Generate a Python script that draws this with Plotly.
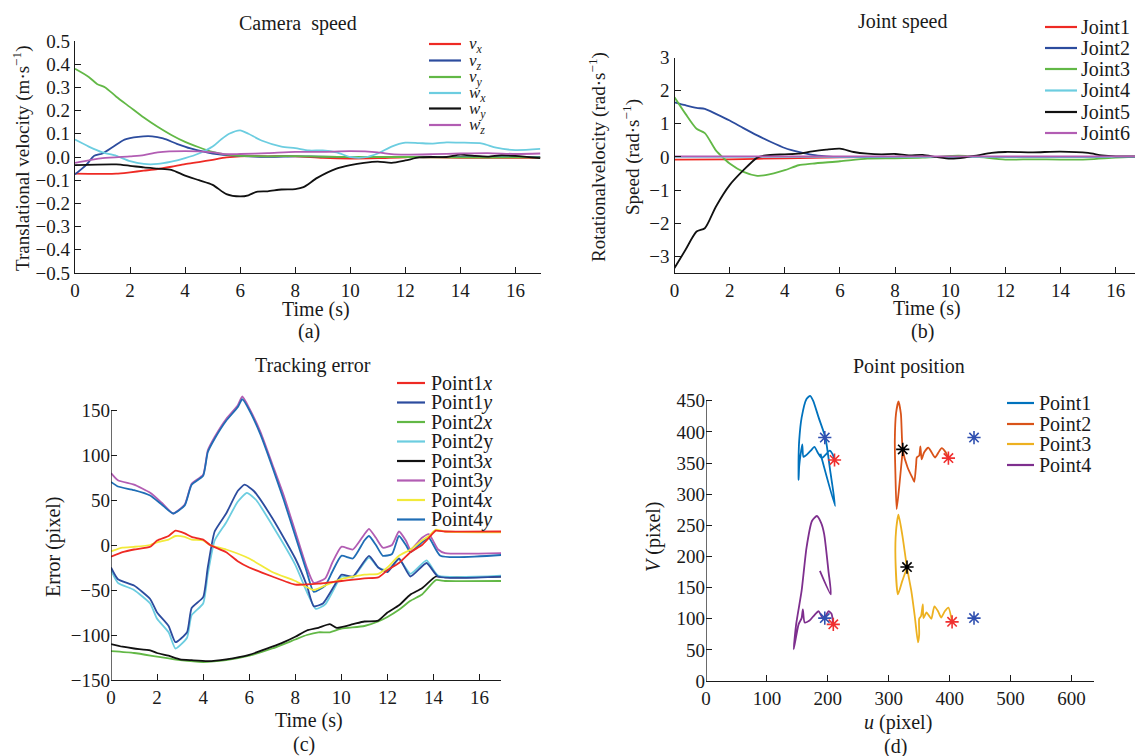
import plotly.graph_objects as go

FONT = "Liberation Serif"
W, H = 1135, 756

# ---------------- (a) Camera speed ----------------
ta_vx = [0, 0.5, 1.0, 1.5, 2, 2.5, 3, 3.5, 4, 4.5, 5, 5.5, 6, 7, 8, 9, 10, 11, 12, 13, 14, 15, 16, 16.9]
va_vx = [-0.072, -0.073, -0.073, -0.072, -0.066, -0.059, -0.052, -0.042, -0.031, -0.022, -0.012, -0.002, 0.003, 0.003, 0.003, -0.004, -0.007, -0.005, -0.001, -0.002, -0.004, -0.004, -0.004, -0.004]

ta_vz = [0, 0.4, 0.7, 1.0, 1.4, 1.8, 2.3, 2.8, 3.2, 3.7, 4.2, 5, 6, 7, 8, 9, 10, 12, 14, 16.9]
va_vz = [-0.075, -0.035, 0.005, 0.015, 0.045, 0.075, 0.087, 0.089, 0.08, 0.057, 0.037, 0.015, 0.005, 0.001, 0.003, 0.002, 0.0, 0.0, 0.0, 0.0]

ta_vy = [0, 0.5, 0.8, 1.1, 1.5, 2, 2.5, 3, 3.5, 4, 4.5, 5, 5.5, 6, 7, 8, 9, 10, 12, 14, 16, 16.9]
va_vy = [0.38, 0.345, 0.315, 0.30, 0.26, 0.215, 0.17, 0.13, 0.095, 0.065, 0.042, 0.022, 0.01, 0.005, 0.003, 0.004, 0.001, 0.0, 0.0, -0.002, -0.002, -0.002]

ta_wx = [0, 0.5, 1.0, 1.5, 2, 2.5, 3, 3.5, 4, 4.5, 5, 5.3, 5.6, 6, 6.3, 6.8, 7.5, 8, 8.5, 9, 9.5, 10, 10.5, 11, 11.5, 12, 12.5, 13, 13.5, 14, 14.8, 15.3, 16, 16.9]
va_wx = [0.075, 0.045, 0.02, 0.005, -0.018, -0.03, -0.03, -0.02, -0.005, 0.015, 0.045, 0.075, 0.1, 0.115, 0.1, 0.07, 0.045, 0.038, 0.028, 0.028, 0.02, 0.0, -0.002, 0.015, 0.045, 0.062, 0.06, 0.058, 0.063, 0.062, 0.058, 0.04, 0.03, 0.035]

ta_wy = [0, 1.5, 2, 2.5, 3, 3.5, 4, 4.5, 5, 5.5, 6, 6.3, 6.6, 7, 7.5, 8, 8.3, 8.8, 9.5, 10, 10.5, 11, 11.5, 12, 12.5, 13, 13.5, 14, 14.5, 15, 15.5, 16, 16.9]
va_wy = [-0.035, -0.032, -0.038, -0.045, -0.05, -0.055, -0.08, -0.1, -0.12, -0.16, -0.17, -0.165, -0.15, -0.148, -0.14, -0.138, -0.13, -0.09, -0.05, -0.035, -0.025, -0.02, -0.025, -0.015, -0.002, 0.0, 0.0, 0.01, 0.005, 0.002, 0.008, 0.005, -0.005]

ta_wz = [0, 1, 2, 2.5, 3, 4, 5, 5.5, 6, 7, 8, 9, 10, 11, 11.5, 12, 13, 14, 15, 16, 16.9]
va_wz = [-0.025, -0.005, 0.003, 0.008, 0.02, 0.025, 0.02, 0.012, 0.013, 0.017, 0.022, 0.022, 0.025, 0.02, 0.012, 0.01, 0.012, 0.015, 0.017, 0.013, 0.015]

# ---------------- (b) Joint speed ----------------
tb_j1 = [0, 2, 4, 6, 8, 10, 12, 14, 16.7]
vb_j1 = [-0.08, -0.07, -0.04, -0.01, 0.0, 0.0, 0.0, 0.0, 0.0]
tb_j2 = [0, 0.4, 0.8, 1.1, 1.5, 2, 2.5, 3, 3.5, 4, 4.5, 5, 5.5, 6, 8, 10, 12, 14, 16.7]
vb_j2 = [1.65, 1.56, 1.48, 1.45, 1.3, 1.1, 0.87, 0.65, 0.45, 0.27, 0.15, 0.06, 0.02, 0.0, 0.0, 0.0, 0.0, 0.0, 0.0]
tb_j3 = [0, 0.4, 0.8, 1.1, 1.5, 1.8, 2, 2.5, 3, 3.3, 4, 4.5, 5, 6, 7, 8, 9, 10, 10.3, 11, 12, 13, 14, 15, 16, 16.7]
vb_j3 = [1.8, 1.3, 0.85, 0.72, 0.2, -0.05, -0.2, -0.45, -0.57, -0.55, -0.4, -0.25, -0.2, -0.13, -0.05, -0.04, -0.02, 0.03, 0.04, 0.0, -0.08, -0.07, -0.08, -0.07, -0.02, 0.0]
tb_j4 = [0, 4, 8, 12, 16.7]
vb_j4 = [0.0, 0.0, 0.0, 0.0, 0.0]
tb_j5 = [0, 0.4, 0.8, 1.1, 1.5, 2, 2.5, 3, 3.3, 4, 4.5, 5, 5.5, 6, 6.5, 7, 7.5, 8, 8.5, 9, 9.5, 10, 10.5, 11, 11.5, 12, 13, 14, 15, 15.5, 16, 16.7]
vb_j5 = [-3.35, -2.8, -2.25, -2.15, -1.5, -0.85, -0.4, -0.02, 0.05, 0.08, 0.1, 0.17, 0.22, 0.25, 0.15, 0.1, 0.08, 0.09, 0.05, 0.06, 0.0, -0.05, -0.02, 0.05, 0.12, 0.15, 0.14, 0.16, 0.12, 0.05, 0.02, 0.02]
tb_j6 = [0, 4, 8, 12, 16.7]
vb_j6 = [0.02, 0.02, 0.02, 0.02, 0.02]

# ---------------- (c) Tracking error ----------------
tc_p3y = [0, 0.3, 1, 1.7, 2.2, 2.7, 3.2, 3.5, 4, 4.2, 4.5, 5, 5.5, 5.7, 6, 6.5, 7, 7.5, 8, 8.5, 8.8, 9.3, 9.6, 10, 10.5, 11, 11.2, 11.5, 11.8, 12.2, 12.5, 12.8, 13, 13.5, 13.8, 14.2, 14.5, 17]
vc_p3y = [80, 72, 67, 58, 47, 35, 45, 68, 78, 105, 120, 140, 155, 165, 152, 125, 90, 55, 15, -25, -42, -37, -20, -2, -5, 12, 18, 8, -3, 0, 15, 5, -5, 8, 12, -5, -9, -9]
tc_p4y = [0, 0.3, 1, 1.7, 2.2, 2.7, 3.2, 3.5, 4, 4.2, 4.5, 5, 5.5, 5.7, 6, 6.5, 7, 7.5, 8, 8.5, 8.8, 9.3, 9.6, 10, 10.5, 11, 11.2, 11.5, 11.8, 12.2, 12.5, 12.8, 13, 13.5, 13.8, 14.3, 17]
vc_p4y = [70, 65, 61, 55, 45, 35, 44, 67, 77, 103, 118, 138, 153, 162, 150, 122, 87, 50, 10, -30, -52, -45, -30, -12, -15, 5, 10, 0, -12, -10, 10, 0, -8, 3, 8, -12, -11]
tc_p1y = [0, 0.3, 1, 1.7, 2, 2.5, 2.8, 3.3, 3.5, 4, 4.2, 4.5, 5, 5.5, 5.8, 6.2, 7, 8, 8.5, 8.8, 9.2, 9.7, 10, 10.5, 11.2, 11.6, 12, 12.5, 13, 13.7, 14.2, 17]
vc_p1y = [-25, -38, -45, -60, -75, -90, -108, -97, -70, -58, -25, 15, 35, 60, 67, 60, 30, -15, -45, -68, -65, -45, -33, -35, -12, -25, -30, -15, -35, -20, -35, -35]
tc_p2y = [0, 0.3, 1, 1.7, 2, 2.5, 2.8, 3.3, 3.5, 4, 4.2, 4.5, 5, 5.5, 5.9, 6.3, 7, 8, 8.5, 8.9, 9.3, 9.8, 10, 10.5, 11.2, 11.6, 12, 12.5, 13, 13.7, 14.2, 17]
vc_p2y = [-28, -42, -50, -65, -82, -97, -115, -103, -78, -65, -33, 5, 25, 48, 58, 50, 22, -22, -52, -71, -66, -43, -35, -36, -14, -25, -28, -16, -32, -17, -34, -34]
tc_p1x = [0, 0.5, 1, 1.7, 2, 2.5, 2.8, 3.2, 3.5, 4, 4.3, 5, 5.5, 6, 7, 8, 9, 10, 11, 11.6, 12, 12.5, 13, 13.5, 13.8, 14.1, 14.5, 17]
vc_p1x = [-13, -8, -5, -2, 5, 10, 16, 13, 9, 6, 0, -8, -18, -25, -35, -44, -43, -40, -37, -36, -28, -20, -8, 0, 8, 16, 15, 15]
tc_p4x = [0, 0.5, 1, 1.7, 2, 2.5, 2.8, 3.2, 3.5, 4, 4.3, 5, 6, 7, 8, 8.8, 9.3, 10, 11, 11.6, 12, 12.5, 13, 13.5, 13.8, 14.1, 14.5, 17]
vc_p4x = [-7, -3, -2, 0, 3, 6, 10, 9, 6, 5, 0, -5, -15, -30, -40, -50, -45, -38, -33, -32, -25, -12, -5, 5, 10, 17, 15, 14]
tc_p3x = [0, 0.5, 1, 1.7, 2, 2.5, 3, 3.5, 4.2, 5, 6, 7, 7.5, 8, 8.5, 9, 9.5, 9.8, 10.5, 11, 11.6, 12, 12.5, 13, 13.5, 14.1, 14.5, 17]
vc_p3x = [-110, -113, -115, -117, -120, -123, -127, -128, -129, -127, -122, -113, -108, -102, -95, -92, -88, -92, -88, -85, -84, -75, -67, -55, -48, -35, -36, -35]
tc_p2x = [0, 1, 2, 3, 4, 5, 6, 7, 8, 8.5, 9, 9.5, 10, 11, 11.6, 12, 12.5, 13, 13.5, 14.1, 14.5, 17]
vc_p2x = [-118, -120, -124, -128, -130, -128, -123, -115, -105, -100, -97, -97, -93, -90, -85, -80, -72, -62, -55, -39, -40, -40]

# ---------------- (d) Point position ----------------
u_p1 = [188, 212, 204, 196, 185, 176, 171, 165, 157, 153, 152, 152, 153, 155, 158, 160, 166, 172, 178, 184, 190, 197, 203, 208, 211]
v_p1 = [365, 281, 337, 391, 423, 450, 458, 453, 423, 386, 359, 323, 345, 362, 380, 360, 364, 370, 376, 366, 358, 364, 370, 364, 355]
u_p2 = [323, 318, 313, 311, 310, 312, 316, 320, 323, 331, 340, 342, 345, 346, 350, 352, 354, 358, 365, 370, 376, 381, 387, 393, 398]
v_p2 = [371, 320, 276, 332, 386, 430, 449, 429, 371, 343, 324, 320, 348, 359, 362, 377, 356, 367, 375, 368, 359, 366, 374, 368, 358]
u_p3 = [330, 322, 315, 311, 312, 316, 323, 330, 337, 343, 348, 350, 350, 353, 356, 357, 362, 366, 370, 375, 381, 386, 392, 398, 404]
v_p3 = [182, 160, 139, 198, 241, 267, 230, 182, 145, 102, 62, 75, 100, 104, 123, 101, 110, 105, 100, 120, 112, 102, 112, 118, 95]
u_p4 = [187, 205, 201, 194, 189, 182, 174, 165, 157, 148, 144, 152, 157, 159, 162, 170, 178, 185, 193, 201, 206, 209]
v_p4 = [177, 139, 177, 236, 254, 265, 257, 214, 145, 91, 51, 91, 101, 115, 94, 97, 106, 112, 99, 112, 108, 91]
u_init = [323, 330]
v_init = [372, 183]
u_final = [211, 398, 404, 209]
v_final = [355, 358, 95, 91]
u_goal = [195, 440, 440, 195]
v_goal = [391, 391, 101, 101]

RED = "#ee2a24"; BLUE = "#2c4c9e"; GREEN = "#62b846"; CYAN = "#6ccde0"
BLACK = "#111111"; MAG = "#b25db3"; YEL = "#f2ea3a"; BLUE2 = "#1f6db5"
C1, C2, C3, C4 = "#0072BD", "#D95319", "#EDB120", "#7E2F8E"

fig = go.Figure()
LW = 1.8


def line(x, y, color, xa, ya, smooth=0.7):
    fig.add_trace(go.Scatter(x=x, y=y, mode="lines", showlegend=False, hoverinfo="skip",
                             line=dict(color=color, width=LW, shape="spline", smoothing=smooth),
                             xaxis=xa, yaxis=ya))


# (a)
A_SERIES = [(ta_vx, va_vx, RED), (ta_vz, va_vz, BLUE), (ta_vy, va_vy, GREEN),
            (ta_wx, va_wx, CYAN), (ta_wy, va_wy, BLACK), (ta_wz, va_wz, MAG)]
for t, v, c in A_SERIES:
    line(t, v, c, "x", "y")

# (b)
B_SERIES = [(tb_j1, vb_j1, RED), (tb_j2, vb_j2, BLUE), (tb_j3, vb_j3, GREEN),
            (tb_j4, vb_j4, CYAN), (tb_j5, vb_j5, BLACK), (tb_j6, vb_j6, MAG)]
for t, v, c in B_SERIES:
    line(t, v, c, "x3", "y3")

# (c)
C_SERIES = [(tc_p2x, vc_p2x, GREEN), (tc_p3x, vc_p3x, BLACK), (tc_p2y, vc_p2y, CYAN),
            (tc_p1y, vc_p1y, BLUE), (tc_p3y, vc_p3y, MAG), (tc_p4y, vc_p4y, BLUE2),
            (tc_p4x, vc_p4x, YEL), (tc_p1x, vc_p1x, RED)]
for t, v, c in C_SERIES:
    line(t, v, c, "x4", "y4", smooth=0.5)

# (d)
for u, v, c in [(u_p1, v_p1, C1), (u_p2, v_p2, C2), (u_p3, v_p3, C3), (u_p4, v_p4, C4)]:
    line(u, v, c, "x5", "y5", smooth=0.6)
for uu, vv, col in [(u_init, v_init, "#000000"), (u_final, v_final, "#f03030"), (u_goal, v_goal, "#3050b0")]:
    fig.add_trace(go.Scatter(x=uu, y=vv, mode="markers", showlegend=False, hoverinfo="skip",
                             marker=dict(symbol="asterisk-open", size=11, color=col,
                                         line=dict(color=col, width=1.6)),
                             xaxis="x5", yaxis="y5"))


def px_x(p):
    return p / W


def px_y(p):
    return 1 - p / H


TXT = "#1a1a1a"
tickfont = dict(family=FONT, size=19, color=TXT)
axbase = dict(showgrid=False, zeroline=False, showline=True, linecolor=TXT, linewidth=1.3,
              ticks="inside", ticklen=6, tickcolor=TXT, tickwidth=1.3, tickfont=tickfont,
              fixedrange=True)

fig.update_layout(
    width=W, height=H, margin=dict(l=0, r=0, t=0, b=0, autoexpand=False),
    paper_bgcolor="white", plot_bgcolor="white", showlegend=False,
    font=dict(family=FONT, size=19, color=TXT),
    xaxis=dict(axbase, domain=[px_x(75), px_x(541)], range=[0, 16.93], tickvals=list(range(0, 17, 2)), anchor="y"),
    yaxis=dict(axbase, domain=[px_y(273), px_y(41)], range=[-0.5, 0.5], tickvals=[i / 10 for i in range(-5, 6)],
               tickformat=".1f", anchor="x"),
    yaxis2=dict(axbase, overlaying="y", side="right", anchor="x", range=[-0.5, 0.5],
                tickvals=[i / 10 for i in range(-5, 6)], tickformat=".1f"),
    xaxis3=dict(axbase, domain=[px_x(674.5), 1.0], range=[0, 16.7], tickvals=list(range(0, 17, 2)), anchor="y3"),
    yaxis3=dict(axbase, domain=[px_y(273), px_y(57.5)], range=[-3.5, 3], tickvals=list(range(-3, 4)), anchor="x3"),
    xaxis4=dict(axbase, domain=[px_x(111), px_x(501)], range=[0, 16.93], tickvals=list(range(0, 17, 2)), anchor="y4"),
    yaxis4=dict(axbase, domain=[px_y(680), px_y(392)], range=[-150, 170], tickvals=list(range(-150, 151, 50)),
                anchor="x4", showline=False),
    xaxis5=dict(axbase, domain=[px_x(706), px_x(1094)], range=[0, 637], tickvals=list(range(0, 601, 100)), anchor="y5"),
    yaxis5=dict(axbase, domain=[px_y(681), px_y(391.5)], range=[0, 465], tickvals=list(range(0, 451, 50)),
                anchor="x5", showline=False),
)

# left axis lines of (c) and (d) stop at the top tick, as in the reference
fig.add_shape(type="line", xref="x4", yref="y4", x0=0, x1=0, y0=-150, y1=150,
              line=dict(color=TXT, width=1.3))
fig.add_shape(type="line", xref="x5", yref="y5", x0=0, x1=0, y0=0, y1=450,
              line=dict(color=TXT, width=1.3))


def ann(text, x, y, size=20, angle=0, xanchor="center"):
    fig.add_annotation(text=text, x=px_x(x), y=px_y(y), xref="paper", yref="paper",
                       showarrow=False, textangle=angle, font=dict(family=FONT, size=size, color=TXT),
                       xanchor=xanchor, yanchor="middle")


# legends (line sample + label)
def legend(names, colors, x0, x1, xt, ys, size=20, dy=0):
    for name, col, y in zip(names, colors, ys):
        fig.add_shape(type="line", xref="paper", yref="paper", x0=px_x(x0), x1=px_x(x1),
                      y0=px_y(y), y1=px_y(y), line=dict(color=col, width=2.2))
        ann(name, xt, y + dy, size=size, xanchor="left")


A_NAMES = ["<i>v<sub>x</sub></i>", "<i>v<sub>z</sub></i>", "<i>v<sub>y</sub></i>",
           "<i>w<sub>x</sub></i>", "<i>w<sub>y</sub></i>", "<i>w<sub>z</sub></i>"]
legend(A_NAMES, [RED, BLUE, GREEN, CYAN, BLACK, MAG], 429, 461, 467,
       [44, 60.5, 77, 93, 108.5, 125], size=17, dy=1)
legend(["Joint1", "Joint2", "Joint3", "Joint4", "Joint5", "Joint6"],
       [RED, BLUE, GREEN, CYAN, BLACK, MAG], 1045, 1077, 1079,
       [27, 48, 69, 90.5, 112, 133], size=20)
C_NAMES = ["Point1<i>x</i>", "Point1<i>y</i>", "Point2<i>x</i>", "Point2y",
           "Point3<i>x</i>", "Point3<i>y</i>", "Point4<i>x</i>", "Point4<i>y</i>"]
legend(C_NAMES, [RED, BLUE, GREEN, CYAN, BLACK, MAG, YEL, BLUE2], 397, 425, 429,
       [383 + 19.5 * i for i in range(8)], size=20)
legend(["Point1", "Point2", "Point3", "Point4"], [C1, C2, C3, C4], 1007, 1034, 1037,
       [403, 424, 444, 465], size=20)

ann("Camera  speed", 298, 23)
ann("Joint speed", 902, 22)
ann("Tracking error", 313, 365)
ann("Point position", 909, 366)
ann("Time (s)", 316, 309)
ann("(a)", 309, 331)
ann("Time (s)", 927, 308)
ann("(b)", 922, 331)
ann("Time (s)", 309, 720)
ann("(c)", 304, 744)
ann("<i>u</i> (pixel)", 898, 722)
ann("(d)", 895, 746)
ann("Translational velocity (m·s<sup>−1</sup>)", 22, 158, size=19, angle=-90)
ann("Rotationalvelocity (rad·s<sup>−1</sup>)", 597, 157, size=19, angle=-90)
ann("Speed (rad·s<sup>−1</sup>)", 631, 157, size=19, angle=-90)
ann("Error (pixel)", 53, 547, angle=-90)
ann("<i>V</i> (pixel)", 653, 537, angle=-90)

fig.write_html("out.html", config={"displayModeBar": False},
               post_script="document.body.style.margin='0px';document.body.style.overflow='hidden';")
